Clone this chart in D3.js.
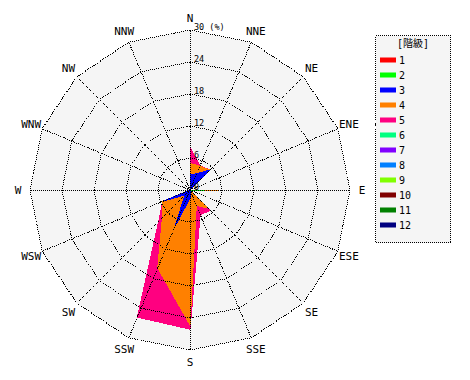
<!DOCTYPE html>
<html><head><meta charset="utf-8">
<script src="https://cdn.jsdelivr.net/npm/d3@7"></script>
<style>body{margin:0;background:#fff}svg{display:block}</style>
</head><body><svg id="c" width="470" height="380"></svg>
<script>
const directions = ["N","NNE","NE","ENE","E","ESE","SE","SSE","S","SSW","SW","WSW","W","WNW","NW","NNW"];
const classes = ["1","2","3","4","5","6","7","8","9","10","11","12"];
const classColors = ["#ff0000","#00ff00","#0000ff","#ff8000","#ff0080","#00ff80","#8000ff","#0080ff","#80ff00","#800000","#008000","#000080"];
const ticks = [6,12,18,24,30];
// frequency (%) per class, directions N..NNW
const c1  = [0,0,0,0,0,0,0,0,0,0,0,0,0,0,0,0];
const c2  = [0,0,0,0,2.8,0,0,0,0,0,0,0,0,0,0,0];
const c3  = [2.8,3.3,5.3,0,0,0,0,0,1.5,7.4,1.3,5.5,0,0,0,0];
const c4  = [2.2,1.5,0,0,2.4,0,4.8,3.1,23.8,8.4,6.0,0,0,0,0,0];
const c5  = [3.0,0.1,0,0,0,0,0.6,1.9,0.8,10.0,1.0,0,0,0,0,0];
const c6  = [0,0,0,0,0,0,0,0,0,0,0,0,0,0,0,0];
const c7  = [0,0,0,0,0,0,0,0,0,0,0,0,0,0,0,0];
const c8  = [0,0,0,0,0,0,0,0,0,0,0,0,0,0,0,0];
const c9  = [0,0,0,0,0,0,0,0,0,0,0,0,0,0,0,0];
const c10 = [0,0,0,0,0,0,0,0,0,0,0,0,0,0,0,0];
const c11 = [0,0,0,0,0,0,0,0,0,0,0,0,0,0,0,0];
const c12 = [0,0,0,0,0,0,0,0,0,0,0,0,0,0,0,0];
const series = [c1,c2,c3,c4,c5,c6,c7,c8,c9,c10,c11,c12];

const svg = d3.select("#c");
const cx = 190, cy = 190, R = 160;
const r = d3.scaleLinear().domain([0,30]).range([0,R]);
const ang = d3.scaleLinear().domain([0,directions.length]).range([0,2*Math.PI]);
const g = svg.append("g").attr("transform",`translate(${cx},${cy})`);
const ring = d3.lineRadial().angle((d,i)=>ang(i)).radius(d=>r(d)).curve(d3.curveLinearClosed);

// background
g.append("path").attr("d", ring(directions.map(()=>30))).attr("fill","#f5f5f5");

// cumulative
const cum = [];
series.forEach((s,k)=>{ cum.push(s.map((v,i)=> v + (k? cum[k-1][i] : 0))); });
for (let k = series.length-1; k >= 0; k--) {
  g.append("path").attr("d", ring(cum[k]))
   .attr("fill", classColors[k]).attr("stroke", classColors[k]).attr("stroke-width",1)
   .attr("shape-rendering","crispEdges");
}

// grid
const gridG = g.append("g").attr("fill","none").attr("stroke","#000").attr("stroke-width",1)
  .attr("stroke-dasharray","1,1").attr("shape-rendering","crispEdges");
ticks.forEach(t=> gridG.append("path").attr("d", ring(directions.map(()=>t))));
directions.forEach((d,i)=>{
  const a = ang(i);
  gridG.append("line").attr("x1",0).attr("y1",0)
    .attr("x2", r(30)*Math.sin(a)).attr("y2", -r(30)*Math.cos(a));
});

// direction labels
directions.forEach((d,i)=>{
  const a = ang(i), rr = 172;
  g.append("text").attr("x", rr*Math.sin(a)).attr("y", -rr*Math.cos(a)).attr("dy","0.36em")
    .attr("text-anchor","middle").attr("font-family","DejaVu Sans Mono").attr("font-size",11)
    .attr("fill","#000").text(d);
});
// tick labels
[0,...ticks].forEach(t=>{
  g.append("text").attr("x",4).attr("y",-r(t)).attr("font-family","DejaVu Sans Mono")
   .attr("font-size",8.5).attr("fill","#000").text(t===30 ? "30 (%)" : String(t));
});

// legend
const lg = svg.append("g");
lg.append("rect").attr("x",375.5).attr("y",35.5).attr("width",75).attr("height",207)
  .attr("fill","#f5f5f5").attr("stroke","#000").attr("stroke-dasharray","1,1").attr("shape-rendering","crispEdges");
lg.append("text").attr("x",413).attr("y",47).attr("text-anchor","middle")
  .attr("font-family","DejaVu Sans Mono, Noto Sans CJK JP").attr("font-size",10).text("[階級]");
classes.forEach((c,i)=>{
  const y = 60 + i*15;
  lg.append("rect").attr("x",380).attr("y",y-2.5).attr("width",16).attr("height",5).attr("fill",classColors[i]);
  lg.append("text").attr("x",399).attr("y",y+3.5).attr("font-family","DejaVu Sans Mono")
    .attr("font-size",10).text(c);
});
</script></body></html>
